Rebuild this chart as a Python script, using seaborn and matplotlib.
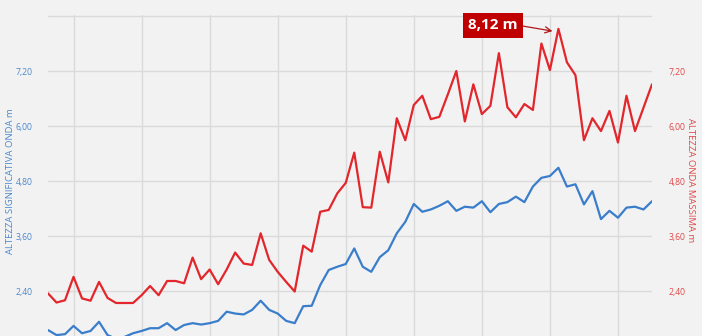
import numpy as np
import pandas as pd
import matplotlib
matplotlib.use("Agg")
import matplotlib.pyplot as plt
import seaborn as sns

# ---- data ----
hours = list(range(72))
onda_massima = [
    2.35, 2.15, 2.20, 2.71, 2.24, 2.19, 2.60, 2.25, 2.14, 2.14,
    2.14, 2.31, 2.51, 2.31, 2.62, 2.62, 2.57, 3.13, 2.66, 2.87,
    2.55, 2.87, 3.24, 3.00, 2.97, 3.66, 3.08, 2.82, 2.60, 2.39,
    3.39, 3.26, 4.13, 4.17, 4.53, 4.76, 5.42, 4.23, 4.22, 5.44,
    4.77, 6.17, 5.69, 6.46, 6.66, 6.15, 6.20, 6.69, 7.20, 6.10,
    6.91, 6.26, 6.44, 7.59, 6.41, 6.19, 6.48, 6.35, 7.80, 7.22,
    8.12, 7.39, 7.11, 5.69, 6.17, 5.89, 6.33, 5.64, 6.66, 5.89,
    6.40, 6.91,
]
onda_significativa = [
    1.55, 1.44, 1.46, 1.64, 1.48, 1.53, 1.73, 1.44, 1.36, 1.40,
    1.48, 1.53, 1.59, 1.59, 1.70, 1.55, 1.66, 1.70, 1.67, 1.70,
    1.75, 1.95, 1.91, 1.89, 1.99, 2.19, 1.99, 1.91, 1.75, 1.70,
    2.07, 2.08, 2.53, 2.86, 2.93, 2.99, 3.33, 2.93, 2.82, 3.14,
    3.29, 3.66, 3.91, 4.30, 4.13, 4.18, 4.26, 4.36, 4.15, 4.24,
    4.22, 4.36, 4.12, 4.30, 4.34, 4.46, 4.34, 4.68, 4.87, 4.91,
    5.09, 4.68, 4.73, 4.29, 4.58, 3.97, 4.15, 4.00, 4.22, 4.24,
    4.18, 4.36,
]
y_ticks = [2.40, 3.60, 4.80, 6.00, 7.20, 8.40]
y_ticklabels = ["2,40", "3,60", "4,80", "6,00", "7,20", ""]
x_grid = [3, 11, 19, 27, 35, 43, 51, 59, 67]
peak_label = "8,12 m"
left_title = "ALTEZZA SIGNIFICATIVA ONDA m"
right_title = "ALTEZZA ONDA MASSIMA m"

df = pd.DataFrame({"ora": hours, "hs": onda_significativa, "hmax": onda_massima})

BG = "#f2f2f2"
GRID = "#dadada"
RED = "#e2262c"
BLUE = "#3a7ecb"
RED_TXT = "#e04848"
BLUE_TXT = "#4a88cc"

sns.set_style("white")
plt.rcParams["font.family"] = ["Open Sans", "DejaVu Sans"]

fig = plt.figure(figsize=(7.02, 3.36), dpi=100, facecolor=BG)
W, H = 702, 336
ymin, ymax = 1.42, 8.42
top_px = 16 - (ymax - 8.40) * 45.83
ax_h_px = H - top_px
ax = fig.add_axes([48 / W, 0, (652 - 48) / W, ax_h_px / H])
ax.set_facecolor(BG)
ax2 = ax.twinx()

for a in (ax, ax2):
    a.set_ylim(ymin, ymax)
    a.set_xlim(0, 71)
    for s in a.spines.values():
        s.set_visible(False)
    a.set_yticks(y_ticks)
    a.tick_params(length=0)

ax.set_xticks(x_grid)
ax.set_xticklabels([])
ax.grid(True, color=GRID, lw=1.0)
ax.set_axisbelow(True)

sns.lineplot(data=df, x="ora", y="hmax", ax=ax, color=RED, lw=1.6)
sns.lineplot(data=df, x="ora", y="hs", ax=ax, color=BLUE, lw=1.6)

ax.set_yticklabels(y_ticklabels, color=BLUE_TXT, fontsize=6.2)
ax.tick_params(axis="y", pad=11)
ax2.set_yticklabels(y_ticklabels, color=RED_TXT, fontsize=6.2)
ax2.tick_params(axis="y", pad=12)
ax2.grid(False)

ax.set_xlabel("")
ax.set_ylabel(left_title, color=BLUE_TXT, fontsize=6.8)
ax.yaxis.label.set_va("center")
ax.yaxis.label.set_ha("center")
ax.yaxis.set_label_coords(-38 / 604, (H - 181) / ax_h_px)
ax2.set_ylabel(right_title, color=RED_TXT, fontsize=6.8, rotation=270)
ax2.yaxis.label.set_va("center")
ax2.yaxis.label.set_ha("center")
ax2.yaxis.set_label_coords(1 + 38 / 604, (H - 180) / ax_h_px)

peak_i = int(np.argmax(onda_massima))
ax.annotate(peak_label, xy=(peak_i - 0.7, onda_massima[peak_i] - 0.05),
            xytext=(52.3, 8.20), ha="center", va="center",
            color="white", fontsize=11, fontweight="bold",
            bbox=dict(boxstyle="square,pad=0.35", fc="#c00000", ec="none"),
            arrowprops=dict(arrowstyle="->", color="#b01818", lw=0.9,
                            relpos=(1.0, 0.5), shrinkA=0, shrinkB=0),
            annotation_clip=False, zorder=5)

fig.savefig("out.png", dpi=100, facecolor=BG)
